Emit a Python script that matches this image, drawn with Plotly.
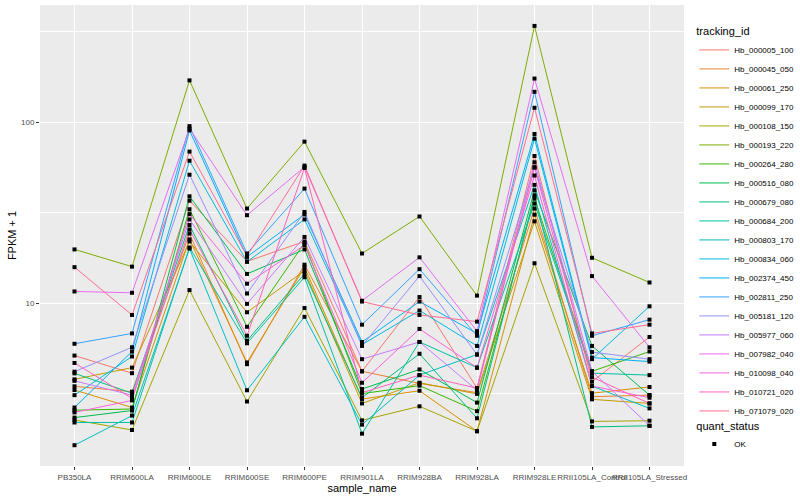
import plotly.graph_objects as go

samples = ["PB350LA", "RRIM600LA", "RRIM600LE", "RRIM600SE", "RRIM600PE", "RRIM901LA",
           "RRIM928BA", "RRIM928LA", "RRIM928LE", "RRII105LA_Control", "RRII105LA_Stressed"]

tracking_ids = ["Hb_000005_100", "Hb_000045_050", "Hb_000061_250", "Hb_000099_170",
                "Hb_000108_150", "Hb_000193_220", "Hb_000264_280", "Hb_000516_080",
                "Hb_000679_080", "Hb_000684_200", "Hb_000803_170", "Hb_000834_060",
                "Hb_002374_450", "Hb_002811_250", "Hb_005181_120", "Hb_005977_060",
                "Hb_007982_040", "Hb_010098_040", "Hb_010721_020", "Hb_071079_020"]

colors = ["#F8766D", "#EA8331", "#D89000", "#C09B00", "#A3A500", "#7CAE00", "#39B600",
          "#00BB4E", "#00BF7D", "#00C1A3", "#00BFC4", "#00BAE0", "#00B0F6", "#35A2FF",
          "#9590FF", "#C77CFF", "#E76BF3", "#FA62DB", "#FF62BC", "#FF6C91"]

# FPKM + 1 values per tracking_id, in the order of `samples`
Hb_000005_100 = [5.13, 4.1, 36.8, 17.0, 21.9, 4.2, 10.8, 3.39, 65, 3.68, 6.5]
Hb_000045_050 = [3.47, 3.24, 24.2, 4.6, 16.3, 4.2, 3.6, 3.2, 33.3, 3.04, 3.1]
Hb_000061_250 = [3.31, 2.65, 22.5, 4.7, 15.8, 2.95, 3.28, 1.96, 30.8, 3.18, 3.44]
Hb_000099_170 = [3.79, 4.4, 21.9, 8.9, 15.1, 2.79, 3.63, 3.15, 28.3, 2.94, 2.79]
Hb_000108_150 = [2.26, 1.99, 11.8, 2.86, 9.4, 2.25, 2.69, 1.96, 16.6, 2.22, 2.24]
Hb_000193_220 = [19.8, 15.9, 170, 33.3, 78, 18.8, 30.1, 11.0, 340, 17.8, 13.0]
Hb_000264_280 = [2.56, 2.6, 33, 7.4, 21.5, 3.16, 3.5, 2.53, 37.8, 4.2, 5.4]
Hb_000516_080 = [2.33, 2.55, 38.9, 14.5, 19.8, 3.35, 4.3, 2.82, 42, 5.8, 3.1]
Hb_000679_080 = [4.09, 3.18, 27, 6.2, 14.5, 3.0, 5.25, 2.31, 39.4, 2.07, 2.1]
Hb_000684_200 = [2.19, 2.19, 20.3, 6.0, 13.9, 1.9, 6.1, 4.4, 35.5, 4.1, 4.0]
Hb_000803_170 = [1.64, 2.39, 20.0, 3.3, 8.4, 2.13, 4.0, 5.2, 45, 3.48, 2.62]
Hb_000834_060 = [3.10, 5.07, 61.2, 16.9, 29.0, 5.9, 9.1, 5.8, 81, 4.9, 9.6]
Hb_002374_450 = [2.65, 5.4, 90, 18.0, 30.9, 6.1, 10.2, 6.8, 86, 5.0, 4.75]
Hb_002811_250 = [5.96, 6.8, 95, 18.8, 42.9, 7.6, 15.4, 6.6, 147, 6.6, 8.1]
Hb_005181_120 = [4.18, 5.7, 51.2, 11.3, 31.9, 5.8, 14.1, 5.2, 56.4, 5.36, 4.9]
Hb_005977_060 = [3.72, 3.1, 29, 9.9, 23.2, 4.9, 6.1, 3.3, 60, 4.2, 2.1]
Hb_007982_040 = [11.6, 11.4, 92, 30.6, 56.5, 10.3, 17.9, 7.0, 174, 14.1, 5.7]
Hb_010098_040 = [2.49, 2.9, 31, 12.8, 20.9, 3.63, 7.2, 4.4, 50.7, 3.48, 3.0]
Hb_010721_020 = [4.67, 2.98, 25.5, 6.6, 55.8, 3.2, 4.0, 3.39, 56, 3.9, 2.79]
Hb_071079_020 = [15.8, 8.6, 68.7, 18.2, 57.5, 10.2, 8.6, 7.9, 120, 6.8, 7.6]

series = [Hb_000005_100, Hb_000045_050, Hb_000061_250, Hb_000099_170, Hb_000108_150,
          Hb_000193_220, Hb_000264_280, Hb_000516_080, Hb_000679_080, Hb_000684_200,
          Hb_000803_170, Hb_000834_060, Hb_002374_450, Hb_002811_250, Hb_005181_120,
          Hb_005977_060, Hb_007982_040, Hb_010098_040, Hb_010721_020, Hb_071079_020]

y_ticks = [10, 100]
y_tick_text = ["10", "100"]
y_minor = [10 ** 0.5, 10 ** 1.5, 10 ** 2.5]

FONT = "Liberation Sans, Arial, Helvetica, sans-serif"

fig = go.Figure()
for name, vals, col in zip(tracking_ids, series, colors):
    fig.add_trace(go.Scatter(x=samples, y=vals, mode="lines", name=name,
                             line=dict(color=col, width=1), legend="legend"))

all_x = [s for _ in series for s in samples]
all_y = [v for vals in series for v in vals]
fig.add_trace(go.Scatter(x=all_x, y=all_y, mode="markers", name="OK",
                         marker=dict(symbol="square", size=4, color="black"),
                         legend="legend2"))

fig.update_layout(
    width=800, height=500,
    paper_bgcolor="white", plot_bgcolor="#EBEBEB",
    margin=dict(l=40, r=116, t=5, b=34, autoexpand=False),
    font=dict(family=FONT, size=9, color="black"),
    xaxis=dict(type="category", range=[-0.6, 10.6], showgrid=True, gridcolor="white",
               gridwidth=1.1, zeroline=False, ticks="outside", ticklen=3,
               tickcolor="#333333", tickangle=0, automargin=False,
               tickfont=dict(size=8, color="#4D4D4D", family=FONT),
               title=dict(text="sample_name", font=dict(size=11, family=FONT), standoff=2)),
    yaxis=dict(type="log", range=[0.100, 2.647], tickmode="array", tickvals=y_ticks,
               ticktext=y_tick_text, showgrid=True, gridcolor="white", gridwidth=1.1,
               zeroline=False, ticks="outside", ticklen=3, tickcolor="#333333",
               automargin=False,
               tickfont=dict(size=8, color="#4D4D4D", family=FONT),
               minor=dict(tickvals=y_minor, showgrid=True, gridcolor="white",
                          gridwidth=0.5, ticks=""),
               title=dict(text="FPKM + 1", font=dict(size=11, family=FONT), standoff=2)),
    legend=dict(x=1.016, xanchor="left", y=0.965, yanchor="top",
                title=dict(text="tracking_id", font=dict(size=11, family=FONT)),
                font=dict(size=8, family=FONT), bgcolor="rgba(0,0,0,0)",
                tracegroupgap=0, itemwidth=30),
    legend2=dict(x=1.016, xanchor="left", y=0.11, yanchor="top",
                 title=dict(text="quant_status", font=dict(size=11, family=FONT)),
                 font=dict(size=8, family=FONT), bgcolor="rgba(0,0,0,0)",
                 itemwidth=30),
)

fig.write_html("out.html", config={"displayModeBar": False},
               post_script="document.body.style.margin='0';document.body.style.padding='0';")
